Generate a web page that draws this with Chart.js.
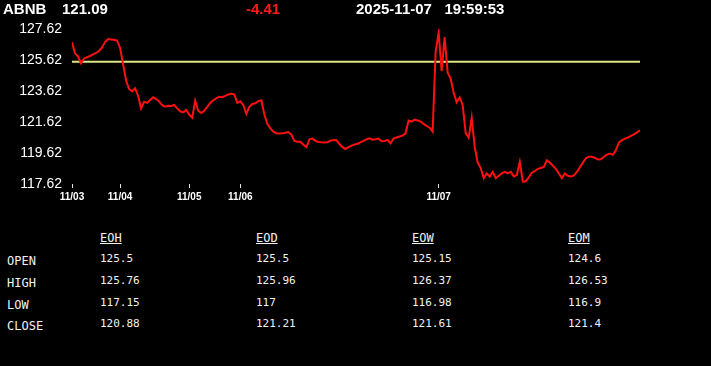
<!DOCTYPE html>
<html>
<head>
<meta charset="utf-8">
<title>ABNB intraday</title>
<script src="https://cdn.jsdelivr.net/npm/chart.js@4.4.1/dist/chart.umd.min.js"></script>
<style>
  html, body {
    margin: 0;
    padding: 0;
    background: #000;
    width: 711px;
    height: 366px;
    overflow: hidden;
    position: relative;
    color: #fff;
  }
  #chart {
    position: absolute;
    left: 0;
    top: 0;
  }
  .hdr {
    position: absolute;
    top: 1px;
    font: bold 15px "Liberation Sans", Arial, sans-serif;
    line-height: 15px;
    color: #fff;
    white-space: pre;
  }
  .hdr.down { color: #ff1a1a; }
  .cell {
    position: absolute;
    font-family: "DejaVu Sans Mono", "Liberation Mono", monospace;
    line-height: 1;
    color: #f2f2f2;
    white-space: pre;
  }
  .lbl { font-size: 12px; }
  .val { font-size: 11px; }
  .col { font-size: 12px; text-decoration: underline; }
</style>
</head>
<body>
<canvas id="chart" width="711" height="215"></canvas>
<div id="header"></div>
<div id="table"></div>

<script>
// Header
const symbol = "ABNB";
const lastPrice = "121.09";
const change = "-4.41";
const stamp = "2025-11-07   19:59:53";

// Price series (evenly spaced bars, 11/03 -> 11/07)
const prices = [
  126.76, 126.05, 125.85, 125.4, 125.72, 125.8, 125.88, 125.98, 126.08, 126.2,
  126.43, 126.78, 126.97, 126.95, 126.93, 126.88, 126.4, 125.35, 124.3, 123.75,
  123.6, 123.8, 123.3, 122.5, 122.93, 122.85, 123.04, 123.22, 123.1, 122.95,
  122.7, 122.61, 122.67, 122.65, 122.72, 122.5, 122.3, 122.24, 122.4, 122.1,
  121.9, 123.0, 122.35, 122.2, 122.35, 122.6, 122.85, 123.02, 123.15, 123.25,
  123.22, 123.3, 123.4, 123.44, 123.4, 122.85, 122.95, 122.7, 122.15, 122.6,
  122.78, 122.83, 122.97, 123.02, 122.1, 121.5, 121.21, 121.0, 120.9, 120.88,
  120.9, 120.93, 120.97, 120.8, 120.4, 120.35, 120.35, 120.15, 120.0, 120.5,
  120.55, 120.4, 120.33, 120.31, 120.3, 120.32, 120.42, 120.46, 120.44, 120.2,
  120.0, 119.88, 120.0, 120.1, 120.16, 120.22, 120.31, 120.4, 120.5, 120.57,
  120.48, 120.5, 120.55, 120.38, 120.4, 120.46, 120.24, 120.55, 120.62, 120.68,
  120.75, 120.89, 121.72, 121.65, 121.77, 121.72, 121.64, 121.5, 121.37, 121.25,
  121.0, 126.15, 127.4, 124.9, 127.1, 124.8, 124.4, 123.5, 122.9, 123.2,
  122.7, 120.9, 120.6, 121.9, 120.0, 119.0, 118.65, 118.0, 118.3, 118.1,
  118.4, 118.0, 118.15, 118.3, 118.4, 118.3, 118.41, 118.1, 118.2, 119.05,
  117.77, 117.8, 118.05, 118.35, 118.45, 118.6, 118.65, 118.72, 119.15, 119.0,
  118.8, 118.6, 118.3, 118.0, 118.3, 118.15, 118.1, 118.18, 118.4, 118.7,
  119.0, 119.28, 119.38, 119.38, 119.3, 119.2, 119.22, 119.38, 119.52, 119.58,
  119.5, 119.81, 120.3, 120.44, 120.55, 120.62, 120.72, 120.82, 120.95, 121.09
];

// Day labels and the bar index where each day starts
const dayLabels = ["11/03", "11/04", "11/05", "11/06", "11/07"];
const dayStarts = [0, 16, 39, 56, 122];

// Y axis ticks
const yMin = 117.62;
const yMax = 127.62;
const yStep = 2;

// Summary table
const periods = ["EOH", "EOD", "EOW", "EOM"];
const rowNames = ["OPEN", "HIGH", "LOW", "CLOSE"];
const eoh = ["125.5", "125.76", "117.15", "120.88"];
const eod = ["125.5", "125.96", "117", "121.21"];
const eow = ["125.15", "126.37", "116.98", "121.61"];
const eom = ["124.6", "126.53", "116.9", "121.4"];

// Reference line = day open
const openPrice = parseFloat(eod[0]);

function renderHeader() {
  const el = document.getElementById("header");
  const items = [
    { text: symbol, x: 3, cls: "" },
    { text: lastPrice, x: 62, cls: "" },
    { text: change, x: 246, cls: parseFloat(change) < 0 ? "down" : "" },
    { text: stamp, x: 356, cls: "" },
  ];
  items.forEach((it) => {
    const d = document.createElement("div");
    d.className = "hdr " + it.cls;
    d.style.left = it.x + "px";
    d.textContent = it.text;
    el.appendChild(d);
  });
}

function renderTable() {
  const el = document.getElementById("table");
  const cols = [eoh, eod, eow, eom];
  const colX = [100, 256, 412, 568];
  const rowTop = [253, 275, 297, 318];

  const add = (text, cls, x, y) => {
    const d = document.createElement("div");
    d.className = "cell " + cls;
    d.style.left = x + "px";
    d.style.top = y + "px";
    d.textContent = text;
    el.appendChild(d);
  };

  periods.forEach((p, c) => add(p, "col", colX[c], 232));
  rowNames.forEach((r, i) => {
    add(r, "lbl", 7, rowTop[i] + 2);
    cols.forEach((vals, c) => add(vals[i], "val", colX[c], rowTop[i]));
  });
}

function renderChart() {
  const ctx = document.getElementById("chart").getContext("2d");
  const pts = prices.map((v, i) => ({ x: i, y: v }));
  const openLine = prices.map((v, i) => ({ x: i, y: openPrice }));

  new Chart(ctx, {
    type: "line",
    data: {
      datasets: [
        {
          data: pts,
          borderColor: "#ff1010",
          borderWidth: 2,
          pointRadius: 0,
          tension: 0,
        },
        {
          data: openLine,
          borderColor: "#dde58a",
          borderWidth: 2,
          pointRadius: 0,
        },
      ],
    },
    options: {
      responsive: false,
      animation: false,
      devicePixelRatio: 1,
      layout: { padding: { top: 29, right: 71, bottom: 0, left: 0 } },
      plugins: { legend: { display: false }, tooltip: { enabled: false } },
      scales: {
        x: {
          type: "linear",
          min: 0,
          max: prices.length - 1,
          afterBuildTicks: (axis) => {
            axis.ticks = dayStarts.map((v) => ({ value: v }));
          },
          afterFit: (axis) => {
            axis.height = 31;
          },
          border: { display: false },
          grid: {
            drawOnChartArea: false,
            drawTicks: true,
            tickLength: 4,
            color: "#e0e0e0",
          },
          ticks: {
            autoSkip: false,
            maxRotation: 0,
            padding: 3,
            color: "#fff",
            font: { family: "Liberation Sans, Arial", size: 10, weight: "bold" },
            callback: (v) => dayLabels[dayStarts.indexOf(v)],
          },
        },
        y: {
          min: yMin,
          max: yMax,
          afterBuildTicks: (axis) => {
            const t = [];
            for (let v = yMin; v <= yMax + 0.001; v += yStep) t.push({ value: v });
            axis.ticks = t;
          },
          afterFit: (axis) => {
            axis.width = 72;
          },
          border: { display: false },
          grid: { display: false, drawTicks: false },
          ticks: {
            padding: 10,
            color: "#fff",
            font: { family: "Liberation Sans, Arial", size: 14 },
            callback: (v) => v.toFixed(2),
          },
        },
      },
    },
  });
}

document.addEventListener("DOMContentLoaded", () => {
  renderHeader();
  renderTable();
  renderChart();
});
</script>
</body>
</html>
